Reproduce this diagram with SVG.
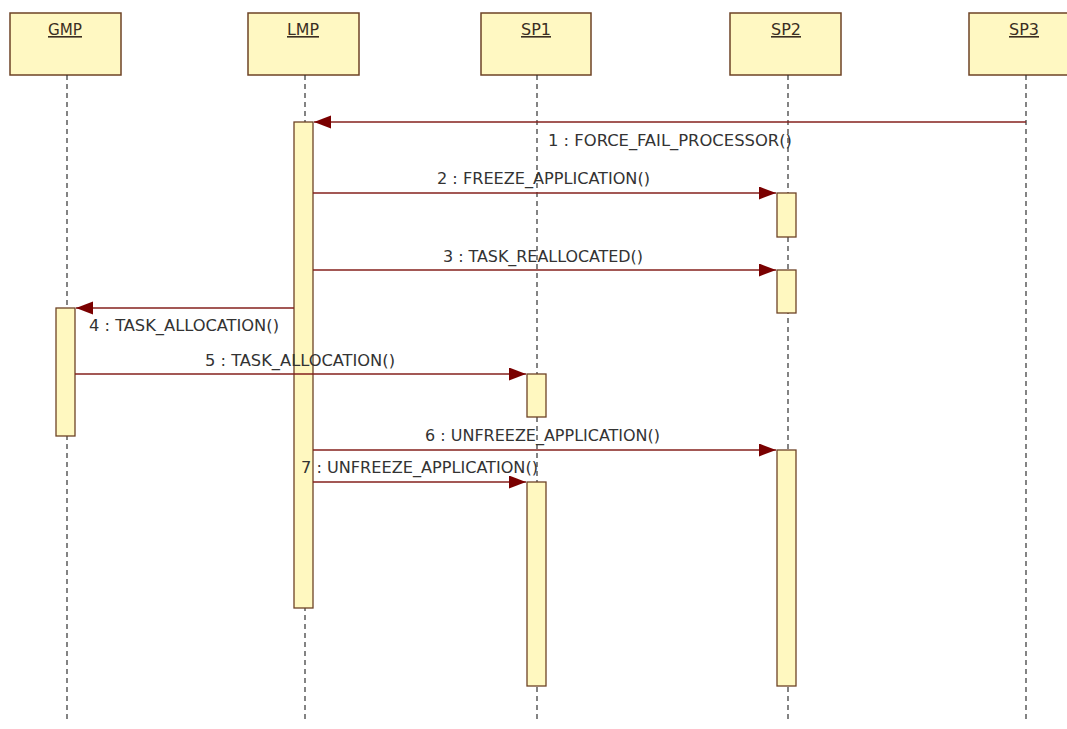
<svg xmlns="http://www.w3.org/2000/svg" width="1067" height="729" viewBox="0 0 1067 729">
<style>
.head{fill:#FFF8C2;stroke:#6E4326;stroke-width:1.5}
.hl{font-family:"DejaVu Sans Condensed","Liberation Sans",sans-serif;font-size:16px;fill:#3A2E22;text-anchor:middle;text-decoration:underline}
.life{stroke:#333;stroke-width:1.2;stroke-dasharray:5 4;fill:none}
.act{fill:#FFF8C0;stroke:#6E4326;stroke-width:1.3}
.msg{stroke:#85201C;stroke-width:1.3;fill:none;marker-end:url(#ah)}
.ml{font-family:"DejaVu Sans Condensed","Liberation Sans",sans-serif;font-size:15px;fill:#333}
</style>
<defs>
<marker id="ah" markerUnits="userSpaceOnUse" markerWidth="18" markerHeight="14" refX="17" refY="6.5" orient="auto">
<path d="M0,0 L17,6.5 L0,13 z" fill="#7A0000"/>
</marker>
</defs>
<rect width="1067" height="729" fill="#fff"/>
<g id="GMP">
<rect class="head" x="10" y="13" width="111" height="62"/>
<text class="hl" x="65" y="35" textLength="34" lengthAdjust="spacingAndGlyphs">GMP</text>
<line class="life" x1="67" y1="75" x2="67" y2="720"/>
<rect class="act" x="56" y="308" width="19" height="128"/>
</g>
<g id="LMP">
<rect class="head" x="248" y="13" width="111" height="62"/>
<text class="hl" x="303" y="35" textLength="32" lengthAdjust="spacingAndGlyphs">LMP</text>
<line class="life" x1="305" y1="75" x2="305" y2="720"/>
<rect class="act" x="294" y="122" width="19" height="486"/>
</g>
<g id="SP1">
<rect class="head" x="481" y="13" width="110" height="62"/>
<text class="hl" x="536" y="35" textLength="30" lengthAdjust="spacingAndGlyphs">SP1</text>
<line class="life" x1="537" y1="75" x2="537" y2="720"/>
<rect class="act" x="527" y="374" width="19" height="43"/>
<rect class="act" x="527" y="482" width="19" height="204"/>
</g>
<g id="SP2">
<rect class="head" x="730" y="13" width="111" height="62"/>
<text class="hl" x="786" y="35" textLength="30" lengthAdjust="spacingAndGlyphs">SP2</text>
<line class="life" x1="788" y1="75" x2="788" y2="720"/>
<rect class="act" x="777" y="193" width="19" height="44"/>
<rect class="act" x="777" y="270" width="19" height="43"/>
<rect class="act" x="777" y="450" width="19" height="236"/>
</g>
<g id="SP3">
<rect class="head" x="969" y="13" width="111" height="62"/>
<text class="hl" x="1024" y="35" textLength="30" lengthAdjust="spacingAndGlyphs">SP3</text>
<line class="life" x1="1026" y1="75" x2="1026" y2="720"/>
</g>
<g id="labels">
<text class="ml" x="548" y="146" textLength="244" lengthAdjust="spacingAndGlyphs">1 : FORCE_FAIL_PROCESSOR()</text>
<text class="ml" x="437" y="184" textLength="213" lengthAdjust="spacingAndGlyphs">2 : FREEZE_APPLICATION()</text>
<text class="ml" x="443" y="262" textLength="200" lengthAdjust="spacingAndGlyphs">3 : TASK_REALLOCATED()</text>
<text class="ml" x="89" y="331" textLength="190" lengthAdjust="spacingAndGlyphs">4 : TASK_ALLOCATION()</text>
<text class="ml" x="205" y="366" textLength="190" lengthAdjust="spacingAndGlyphs">5 : TASK_ALLOCATION()</text>
<text class="ml" x="425" y="441" textLength="235" lengthAdjust="spacingAndGlyphs">6 : UNFREEZE_APPLICATION()</text>
<text class="ml" x="301" y="473" textLength="237" lengthAdjust="spacingAndGlyphs">7 : UNFREEZE_APPLICATION()</text>
</g>
<g id="connectors">
<line class="msg" x1="1026" y1="122" x2="314" y2="122"/>
<line class="msg" x1="313" y1="193" x2="776" y2="193"/>
<line class="msg" x1="313" y1="270" x2="776" y2="270"/>
<line class="msg" x1="294" y1="308" x2="76" y2="308"/>
<line class="msg" x1="75" y1="374" x2="526" y2="374"/>
<line class="msg" x1="313" y1="450" x2="776" y2="450"/>
<line class="msg" x1="313" y1="482" x2="526" y2="482"/>
</g>
</svg>
